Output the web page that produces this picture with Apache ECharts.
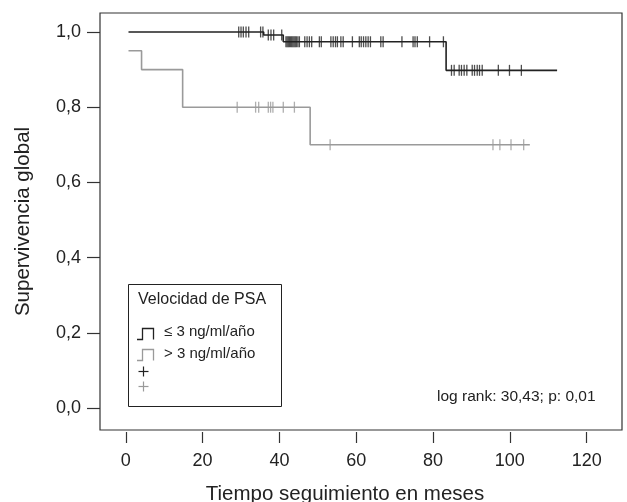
<!DOCTYPE html>
<html>
<head>
<meta charset="utf-8">
<script src="https://cdn.jsdelivr.net/npm/echarts@6/dist/echarts.min.js"></script>
<style>html,body{margin:0;padding:0;background:#fff}#c{width:627px;height:502px}</style>
</head>
<body>
<div id="c"></div>
<script>
// ---- data ----
var xTicks = [0, 20, 40, 60, 80, 100, 120];
var yTicks = [0, 0.2, 0.4, 0.6, 0.8, 1.0];
// group <= 3 ng/ml/año : step times / survival
var lowTimes = [0.7, 35.9, 41.0, 83.4, 112.3];
var lowSurv  = [1.0, 0.992, 0.974, 0.898, 0.898];
var lowCensor = [29.4, 30.0, 30.6, 31.3, 32.0, 35.1, 35.7,
  37.1, 37.8, 38.5, 40.6,
  41.7, 42.0, 42.3, 42.6, 42.9, 43.2, 43.5, 43.8, 44.1, 44.4, 44.8, 45.2,
  46.6, 47.2, 47.8, 48.4, 50.4, 50.9,
  53.4, 54.0, 54.6, 55.1, 56.0, 56.6, 59.0,
  60.8, 61.3, 61.9, 62.5, 63.1, 63.7, 66.4, 67.0, 71.9,
  74.8, 75.3, 75.9, 79.1, 82.7,
  84.8, 85.5, 86.8, 87.4, 88.1, 88.8, 90.2, 90.8, 91.5, 92.1, 92.8, 97.0, 99.9, 103.0];
// group > 3 ng/ml/año
var highTimes = [0.7, 4.1, 14.8, 48.0, 105.2];
var highSurv  = [0.95, 0.9, 0.8, 0.7, 0.7];
var highCensor = [29.0, 33.8, 34.6, 37.1, 37.7, 38.3, 41.0, 43.9,
  53.2, 95.6, 97.4, 100.3, 103.6];
var labels = ['≤ 3 ng/ml/año', '> 3 ng/ml/año'];
var legendTitle = 'Velocidad de PSA';
var statText = 'log rank: 30,43; p: 0,01';

function stepPairs(ts, ss) { return ts.map(function (t, i) { return [t, ss[i]]; }); }
function levelAt(ts, ss, t) {
  var v = ss[0];
  for (var i = 0; i < ts.length; i++) { if (ts[i] <= t) v = ss[i]; }
  return v;
}
function censorPairs(c, ts, ss) { return c.map(function (t) { return [t, levelAt(ts, ss, t)]; }); }

var BLACK = '#222222', GREY = '#9a9a9a';
var FONT = 'Liberation Sans, Arial, sans-serif';
var fmt = function (v) { return v.toFixed(1).replace('.', ','); };

var chart = echarts.init(document.getElementById('c'), null, {renderer: 'canvas'});
var option = {
  animation: false,
  backgroundColor: '#fff',
  textStyle: {fontFamily: FONT},
  grid: {left: 100, top: 13, right: 5, bottom: 72, outerBoundsMode: 'none', containLabel: false,
         show: true, borderColor: '#333', borderWidth: 1.2, backgroundColor: 'transparent'},
  xAxis: {
    type: 'value', min: -6.72, max: 129.2, offset: 2,
    splitLine: {show: false}, axisLine: {show: false, onZero: false},
    axisTick: {show: true, inside: false, length: 11, customValues: xTicks, lineStyle: {color: '#333', width: 1.2}},
    axisLabel: {customValues: xTicks, color: '#222', fontSize: 18, margin: 20, fontFamily: FONT},
    name: 'Tiempo seguimiento en meses', nameLocation: 'middle', nameGap: 52,
    nameTextStyle: {fontSize: 20.5, color: '#222', fontFamily: FONT, padding: [0, 32, 0, 0]}
  },
  yAxis: {
    type: 'value', min: -0.0585, max: 1.0505,
    splitLine: {show: false}, axisLine: {show: false, onZero: false},
    axisTick: {show: true, inside: false, length: 13, customValues: yTicks, lineStyle: {color: '#333', width: 1.2}},
    axisLabel: {customValues: yTicks, formatter: fmt, color: '#222', fontSize: 18, margin: 19, fontFamily: FONT},
    name: 'Supervivencia global', nameLocation: 'middle', nameGap: 66,
    nameTextStyle: {fontSize: 20.5, color: '#222', fontFamily: FONT}
  },
  series: [
    {type: 'line', step: 'end', data: stepPairs(highTimes, highSurv), showSymbol: false,
     lineStyle: {color: GREY, width: 1.6}, silent: true, clip: false, z: 2},
    {type: 'line', step: 'end', data: stepPairs(lowTimes, lowSurv), showSymbol: false,
     lineStyle: {color: BLACK, width: 1.6}, silent: true, clip: false, z: 3},
    {type: 'scatter', data: censorPairs(highCensor, highTimes, highSurv), symbol: 'rect', symbolSize: [1.3, 11],
     itemStyle: {color: GREY}, silent: true, clip: false, z: 4},
    {type: 'scatter', data: censorPairs(lowCensor, lowTimes, lowSurv), symbol: 'rect', symbolSize: [1.3, 11],
     itemStyle: {color: BLACK}, silent: true, clip: false, z: 5}
  ],
  graphic: [
    {type: 'rect', shape: {x: 128.5, y: 284.5, width: 153, height: 122}, style: {fill: '#fff', stroke: '#222', lineWidth: 1}, z: 10},
    {type: 'text', x: 138, y: 300, style: {text: legendTitle, font: '16px ' + FONT, fill: '#222', verticalAlign: 'middle'}, z: 11},
    {type: 'polyline', shape: {points: [[137, 339.5], [142.5, 339.5], [142.5, 328.5], [153.5, 328.5], [153.5, 339.5]]}, style: {stroke: BLACK, lineWidth: 1.3, fill: null}, z: 11},
    {type: 'text', x: 164, y: 332, style: {text: labels[0], font: '15px ' + FONT, fill: '#222', verticalAlign: 'middle'}, z: 11},
    {type: 'polyline', shape: {points: [[137, 360.5], [142.5, 360.5], [142.5, 349.5], [153.5, 349.5], [153.5, 360.5]]}, style: {stroke: GREY, lineWidth: 1.3, fill: null}, z: 11},
    {type: 'text', x: 164, y: 354, style: {text: labels[1], font: '15px ' + FONT, fill: '#222', verticalAlign: 'middle'}, z: 11},
    {type: 'polyline', shape: {points: [[138.5, 371.5], [148.5, 371.5]]}, style: {stroke: BLACK, lineWidth: 1.2}, z: 11},
    {type: 'polyline', shape: {points: [[143.5, 366.5], [143.5, 376.5]]}, style: {stroke: BLACK, lineWidth: 1.2}, z: 11},
    {type: 'polyline', shape: {points: [[138.5, 386.5], [148.5, 386.5]]}, style: {stroke: GREY, lineWidth: 1.2}, z: 11},
    {type: 'polyline', shape: {points: [[143.5, 381.5], [143.5, 391.5]]}, style: {stroke: GREY, lineWidth: 1.2}, z: 11},
    {type: 'text', x: 437, y: 397, style: {text: statText, font: '15.5px ' + FONT, fill: '#222', verticalAlign: 'middle'}, z: 11}
  ]
};
chart.setOption(option);
</script>
</body>
</html>
